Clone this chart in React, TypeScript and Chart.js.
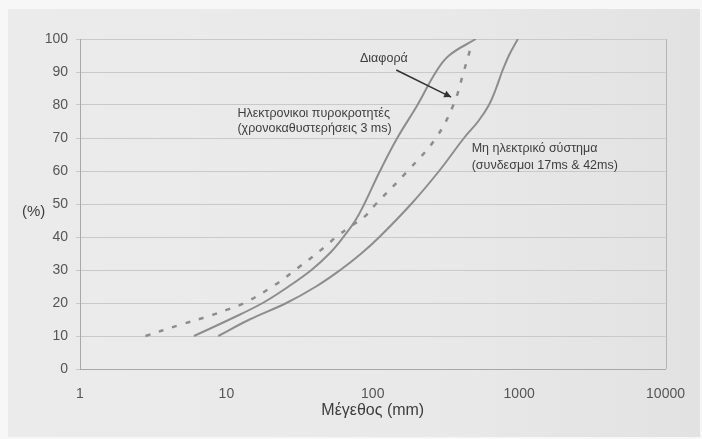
import { useEffect, useRef } from "react";
import { Chart, registerables } from "chart.js";

Chart.register(...registerables);

// ---- data ----
const sizeTicks = [1, 10, 100, 1000, 10000];

const electronicX = [6.0, 10.5, 17.7, 26.6, 38.1, 50.6, 63, 76, 87.5, 112, 147, 202, 270, 332, 505];
const electronicY = [10, 15, 20, 25, 30, 35, 40, 45, 50, 60, 70, 80, 90, 95, 100];

const nonElectricX = [8.8, 14.4, 25.7, 41, 60, 83.5, 111, 183, 284, 420, 524, 622, 695, 763, 851, 980];
const nonElectricY = [10, 15, 20, 25, 30, 35, 40, 50, 60, 70, 75, 80, 85, 90, 95, 100];

const differenceX = [2.8, 4.75, 7.8, 10, 13.3, 21.3, 31.2, 46.7, 57.6, 72.8, 87.5, 105, 173, 270, 359, 420, 468];
const differenceY = [10, 13.3, 16.2, 17.9, 20, 25.4, 30.8, 36.9, 40.4, 43.6, 46.1, 50, 60, 70, 80.5, 90.4, 97.5];

const labelElectronic = ["Ηλεκτρονικοι πυροκροτητές", "(χρονοκαθυστερήσεις 3 ms)"];
const labelNonElectric = ["Μη ηλεκτρικό σύστημα", "(συνδεσμοι 17ms & 42ms)"];
const labelDifference = "Διαφορά";
const xTitle = "Μέγεθος (mm)";
const yTitle = "(%)";

const toPoints = (xs: number[], ys: number[]) => xs.map((x, i) => ({ x, y: ys[i] }));

const LINE = "#8d8d8d";
const GRID = "#c9c9c9";
const TEXT = "#3e3e3e";
const TICK = "#555555";
const FONT = "'Liberation Sans', Arial, sans-serif";

export default function App() {
  const ref = useRef<HTMLCanvasElement>(null);

  useEffect(() => {
    const canvas = ref.current!;

    const bgPlugin = {
      id: "bg",
      beforeDraw(chart: any) {
        const { ctx, width, height } = chart;
        ctx.save();
        ctx.fillStyle = "#f7f7f7";
        ctx.fillRect(0, 0, width, height);
        const g = ctx.createLinearGradient(8, 0, 700, 0);
        g.addColorStop(0, "#ebebeb");
        g.addColorStop(0.6, "#e9e9e9");
        g.addColorStop(1, "#e2e2e2");
        ctx.fillStyle = g;
        ctx.fillRect(8, 9, 692, 428);
        ctx.restore();
      },
      beforeDatasetsDraw(chart: any) {
        const { ctx, chartArea } = chart;
        ctx.save();
        ctx.strokeStyle = "#b5b5b5";
        ctx.lineWidth = 1;
        ctx.beginPath();
        ctx.moveTo(Math.round(chartArea.right) + 0.5, chartArea.top);
        ctx.lineTo(Math.round(chartArea.right) + 0.5, chartArea.bottom);
        ctx.stroke();
        // (%) label
        ctx.fillStyle = TEXT;
        ctx.font = `15px ${FONT}`;
        ctx.textAlign = "left";
        ctx.textBaseline = "middle";
        const yMid = chart.scales.y.getPixelForValue(50);
        ctx.fillText(yTitle, 22, yMid + 8);
        ctx.restore();
      },
      afterDatasetsDraw(chart: any) {
        const { ctx, scales } = chart;
        const xs = scales.x;
        const ys = scales.y;
        const px = (v: number) => xs.getPixelForValue(v);
        const py = (v: number) => ys.getPixelForValue(v);
        ctx.save();
        ctx.fillStyle = TEXT;
        ctx.font = `12.5px ${FONT}`;
        ctx.textAlign = "left";
        ctx.textBaseline = "middle";
        ctx.fillText(labelDifference, px(81.8), py(94.2));
        ctx.fillText(labelElectronic[0], px(11.9), py(77.5));
        ctx.fillText(labelElectronic[1], px(11.9), py(72.9));
        ctx.fillText(labelNonElectric[0], px(474), py(66.9));
        ctx.fillText(labelNonElectric[1], px(474), py(61.8));
        // arrow
        const x1 = px(144.6), y1 = py(90.6), x2 = px(343), y2 = py(82.4);
        ctx.strokeStyle = "#333";
        ctx.lineWidth = 1.5;
        ctx.beginPath();
        ctx.moveTo(x1, y1);
        ctx.lineTo(x2, y2);
        ctx.stroke();
        const ang = Math.atan2(y2 - y1, x2 - x1);
        const hl = 7, hw = 3.5;
        ctx.fillStyle = "#333";
        ctx.beginPath();
        ctx.moveTo(x2, y2);
        ctx.lineTo(x2 - hl * Math.cos(ang) + hw * Math.sin(ang), y2 - hl * Math.sin(ang) - hw * Math.cos(ang));
        ctx.lineTo(x2 - hl * Math.cos(ang) - hw * Math.sin(ang), y2 - hl * Math.sin(ang) + hw * Math.cos(ang));
        ctx.closePath();
        ctx.fill();
        ctx.restore();
      },
    };

    const common = { pointRadius: 0, tension: 0.4, fill: false, borderColor: LINE };

    const chart = new Chart(canvas, {
      type: "line",
      data: {
        datasets: [
          { ...common, label: labelElectronic[0], data: toPoints(electronicX, electronicY), borderWidth: 2 },
          { ...common, label: labelNonElectric[0], data: toPoints(nonElectricX, nonElectricY), borderWidth: 2 },
          {
            ...common,
            label: labelDifference,
            data: toPoints(differenceX, differenceY),
            borderWidth: 2.5,
            borderDash: [5, 9],
          },
        ],
      },
      options: {
        responsive: false,
        animation: false,
        devicePixelRatio: 1,
        layout: { padding: { top: 39, right: 35, bottom: 19, left: 0 } },
        plugins: { legend: { display: false }, tooltip: { enabled: false } },
        scales: {
          x: {
            type: "logarithmic",
            min: 1,
            max: 10000,
            afterBuildTicks: (s: any) => {
              s.ticks = sizeTicks.map((v) => ({ value: v }));
            },
            afterFit: (s: any) => {
              s.height = 51;
            },
            ticks: {
              autoSkip: false,
              maxRotation: 0,
              padding: 17,
              color: TICK,
              font: { family: FONT, size: 14 },
              callback: (v: any) => String(v),
            },
            grid: { display: false, drawTicks: false },
            border: { display: true, color: "#a8a8a8" },
            title: {
              display: true,
              text: xTitle,
              color: TEXT,
              font: { family: FONT, size: 16 },
              padding: { top: 0, bottom: 0 },
            },
          },
          y: {
            min: 0,
            max: 100,
            afterFit: (s: any) => {
              s.width = 80;
            },
            ticks: {
              stepSize: 10,
              padding: 8,
              color: TICK,
              font: { family: FONT, size: 14 },
            },
            grid: { color: GRID, lineWidth: 1, tickLength: 4, drawTicks: true },
            border: { display: true, color: "#a8a8a8" },
          },
        },
      },
      plugins: [bgPlugin],
    } as any);

    return () => chart.destroy();
  }, []);

  return (
    <canvas
      ref={ref}
      width={702}
      height={439}
      style={{ position: "fixed", left: 0, top: 0, width: 702, height: 439, display: "block" }}
    />
  );
}
